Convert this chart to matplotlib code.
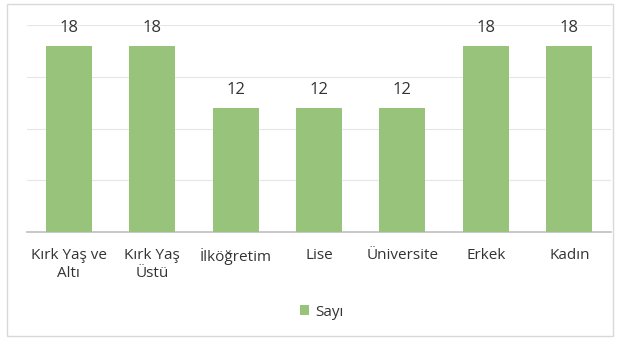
import numpy as np
import matplotlib.pyplot as plt
from matplotlib.patches import Rectangle

plt.rcParams['font.family'] = ['Open Sans', 'DejaVu Sans']

kategoriler = ['Kırk Yaş ve\nAltı', 'Kırk Yaş\nÜstü', 'İlköğretim', 'Lise',
               'Üniversite', 'Erkek', 'Kadın']
sayi = [18, 18, 12, 12, 12, 18, 18]

yesil = '#97C47A'
yazi = '#333333'

fig = plt.figure(figsize=(6.21, 3.38), dpi=100)
ax = fig.add_axes([27/621, 1 - 232/338, 584/621, 207/338])

x = np.arange(len(kategoriler))
bars = ax.bar(x, sayi, width=0.55, color=yesil, label='Sayı', zorder=3)
for b, v in zip(bars, sayi):
    ax.text(b.get_x() + b.get_width()/2, v + 1.7, str(v), ha='center', va='center',
            fontsize=12, color=yazi)

ax.set_xlim(-0.5, len(kategoriler) - 0.5)
ax.set_ylim(0, 20)
ax.set_yticks([0, 5, 10, 15, 20])
ax.yaxis.grid(True, color='#E6E6E6', lw=0.8, zorder=0)
ax.tick_params(axis='y', left=False, labelleft=False)
ax.tick_params(axis='x', bottom=False, pad=8)
ax.set_xticks(x)
ax.set_xticklabels(kategoriler, fontsize=11, color=yazi, linespacing=1.3)
for s in ['top', 'right', 'left']:
    ax.spines[s].set_visible(False)
ax.spines['bottom'].set_color('#BFBFBF')
ax.spines['bottom'].set_linewidth(1.2)

leg = fig.legend(loc='center', bbox_to_anchor=(322/621, 1 - 312/338), frameon=False,
                 fontsize=11, handlelength=0.6, handleheight=0.6, handletextpad=0.4)
for t in leg.get_texts():
    t.set_color(yazi)

fig.patches.append(Rectangle((7/621, 2/338), 606/621, 332/338, transform=fig.transFigure,
                             fill=False, edgecolor='#D9D9D9', lw=1))

fig.savefig('out.png', dpi=100)
